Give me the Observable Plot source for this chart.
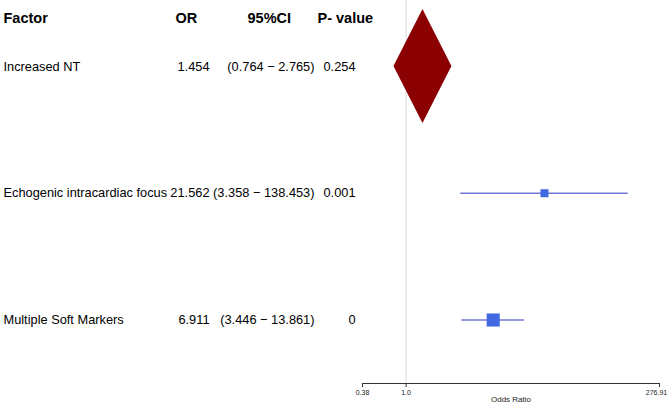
<!DOCTYPE html>
<html>
<head>
<meta charset="utf-8">
<script src="https://cdn.jsdelivr.net/npm/d3@7"></script>
<script src="https://cdn.jsdelivr.net/npm/@observablehq/plot@0.6"></script>
<style>
  html, body { margin: 0; padding: 0; background: #fff; }
</style>
</head>
<body>
<div id="chart"></div>
<script>
const factors = ["Increased NT", "Echogenic intracardiac focus", "Multiple Soft Markers"];
const oddsRatios = [1.454, 21.562, 6.911];
const lowerCI = [0.764, 3.358, 3.446];
const upperCI = [2.765, 138.453, 13.861];
const pValues = ["0.254", "0.001", "0"];
const isSummary = [true, false, false];
const headers = ["Factor", "OR", "95%CI", "P- value"];
const tickValues = [0.38, 1.0, 276.91];
const tickLabels = ["0.38", "1.0", "276.91"];
const axisLabel = "Odds Ratio";

const rows = factors.map((f, i) => ({
  factor: f,
  idx: i + 1,
  or: oddsRatios[i],
  lo: lowerCI[i],
  hi: upperCI[i],
  p: pValues[i],
  summary: isSummary[i],
  orText: oddsRatios[i].toFixed(3),
  ciText: `(${lowerCI[i].toFixed(3)} \u2212 ${upperCI[i].toFixed(3)})`,
  prec: 1 / ((Math.log(upperCI[i]) - Math.log(lowerCI[i])) / (2 * 1.96))
}));
const boxes = rows.filter(d => !d.summary);
const diamondHalf = 0.45;
const diamonds = rows.filter(d => d.summary).flatMap(d => [
  {x: d.lo, y1: d.idx, y2: d.idx},
  {x: d.or, y1: d.idx - diamondHalf, y2: d.idx + diamondHalf},
  {x: d.hi, y1: d.idx, y2: d.idx}
]);
const maxPrec = d3.max(boxes, d => d.prec);

const font = "'Liberation Sans', Arial, sans-serif";
const headerDx = [-359, -187, -115, -45];
const bodySize = 12.8;
const lastTick = tickValues[tickValues.length - 1];
const axisStyle = {tickPadding: 3, fontSize: 7, stroke: "#333", fill: "#222", label: null};

const marks = [
  Plot.ruleX([1], {stroke: "#dadada", strokeWidth: 1}),
  Plot.frame({anchor: "bottom", stroke: "#333"}),
  Plot.axisX({...axisStyle, ticks: tickValues, tickSize: 4,
    tickFormat: d => d === lastTick ? "" : tickLabels[tickValues.indexOf(d)]}),
  Plot.axisX({...axisStyle, ticks: [lastTick], tickSize: 0, dy: 4, dx: -3,
    tickFormat: d => tickLabels[tickValues.indexOf(d)]}),
  Plot.text([axisLabel], {frameAnchor: "bottom", dy: 18.5, fontSize: 8, fill: "#222"}),
  Plot.ruleY(boxes, {y: "idx", x1: "lo", x2: "hi", stroke: "#7378d8", strokeWidth: 1.5}),
  Plot.dot(boxes, {x: "or", y: "idx", r: "prec", symbol: "square", fill: "#4169e1", stroke: null}),
  Plot.areaY(diamonds, {x: "x", y1: "y1", y2: "y2", fill: "#8b0000", curve: "linear"}),
  Plot.text(rows, {y: "idx", text: "factor", frameAnchor: "left", dx: -359, textAnchor: "start", fontSize: bodySize, fill: "#000"}),
  Plot.text(rows, {y: "idx", text: "orText", frameAnchor: "left", dx: -153, textAnchor: "end", fontSize: bodySize, fill: "#000"}),
  Plot.text(rows, {y: "idx", text: "ciText", frameAnchor: "left", dx: -48, textAnchor: "end", fontSize: bodySize, fill: "#000"}),
  Plot.text(rows, {y: "idx", text: "p", frameAnchor: "left", dx: -7, textAnchor: "end", fontSize: bodySize, fill: "#000"}),
  ...headers.map((h, i) => Plot.text([h], {
    frameAnchor: "top-left", dx: headerDx[i], dy: 12, textAnchor: "start",
    fontSize: 14.5, fontWeight: "bold", fill: "#000"
  }))
];

const chart = Plot.plot({
  width: 669,
  height: 407,
  marginLeft: 362,
  marginRight: 10,
  marginTop: 0,
  marginBottom: 24,
  style: {fontFamily: font, background: "#fff", color: "#000"},
  x: {type: "log", domain: [0.38, 276.91]},
  y: {domain: [0.4793, 3.501], reverse: true, axis: null},
  r: {type: "sqrt", domain: [0, maxPrec], range: [0, 7.4]},
  marks
});
document.getElementById("chart").appendChild(chart);
</script>
</body>
</html>
